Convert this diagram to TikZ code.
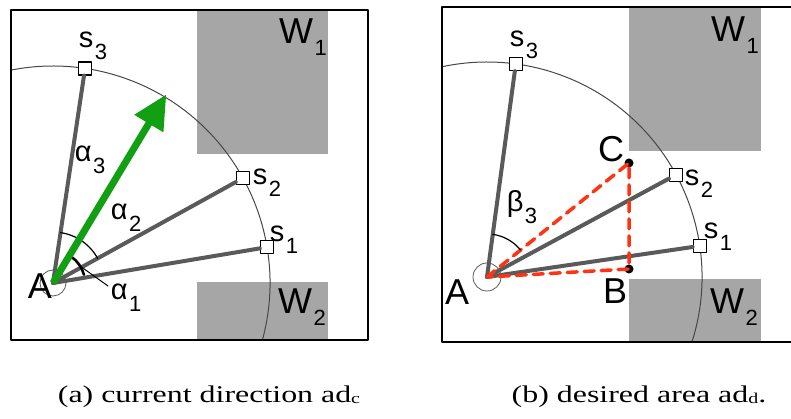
\documentclass[tikz,border=0pt]{standalone}
\usepackage{fontspec}
\setmainfont{Liberation Serif}
\setsansfont{Liberation Sans}
\usetikzlibrary{arrows.meta,positioning}

% label with a lowered index
\newcommand{\lsub}[2]{#1\hspace{1.5pt}\raisebox{-12pt}{\fontsize{22}{22}\selectfont #2}}
% caption text, set wide as in the figure
\newcommand{\capttext}[1]{\scalebox{1.33}[1]{#1}}

\definecolor{wallgray}{RGB}{166,166,166}
\definecolor{raygray}{RGB}{90,90,90}
\definecolor{dirgreen}{RGB}{18,160,18}
\definecolor{areared}{RGB}{255,51,17}

\tikzset{
  wall/.style={fill=wallgray},
  panel/.style={draw=black, line width=1.8pt},
  sweep/.style={draw=raygray!80!black, line width=1pt},
  ray/.style={draw=raygray, line width=4pt},
  sensor/.style={rectangle, draw=black, fill=white, line width=1.4pt, minimum size=13pt, inner sep=0pt},
  robot/.style={draw=raygray, line width=0.8pt},
  ang/.style={draw=black, line width=1.2pt},
  areadash/.style={draw=areared, line width=3.5pt, dash pattern=on 10pt off 7pt},
  cornerdot/.style={circle, fill=black, minimum size=9pt, inner sep=0pt},
  lab/.style={font=\sffamily\fontsize{29}{29}\selectfont, inner sep=0pt},
  big/.style={font=\sffamily\fontsize{36}{36}\selectfont, inner sep=0pt},
  capt/.style={font=\fontsize{24}{24}\selectfont, inner sep=0pt},
}

\begin{document}
\begin{tikzpicture}[x=1pt, y=1pt, line cap=round, line join=round]
  \useasboundingbox (0,0) rectangle (791,419);

  % (a) current direction
  \coordinate (Aa) at (53,136);
  \begin{scope}
    \clip (11,79) rectangle (368,409);
    \fill[wall] (197,265) rectangle (328,409);
    \fill[wall] (197,79) rectangle (328,137);
    \draw[sweep] (Aa) ++(-20:217) arc[start angle=-20, end angle=105, radius=217];
  \end{scope}
  \draw[panel] (11,79) rectangle (368,409);
  \draw[robot] (Aa) circle[radius=13];

  \path (Aa) ++(9.5:217) node[sensor] (sa1) {};
  \path (Aa) ++(28.9:217) node[sensor] (sa2) {};
  \path (Aa) ++(81.5:217) node[sensor] (sa3) {};
  \foreach \i in {1,2,3}
    \draw[ray] (Aa) -- (sa\i);

  % angles
  \draw[ang] (Aa) ++(81.5:51) arc[start angle=81.5, end angle=59, radius=51];
  \draw[ang] (Aa) ++(59:51) arc[start angle=59, end angle=28.9, radius=51];
  \draw[ang, line width=2.6pt] (Aa) ++(55:32) arc[start angle=55, end angle=15, radius=32];
  \coordinate (ka) at (108,133);
  \draw[ang, line width=1pt] (Aa) ++(28:33) -- (ka);

  % direction
  \path (Aa) ++(59:220) coordinate (da);
  \draw[dirgreen, line width=7pt, line cap=butt, -{Triangle[length=34pt, width=32pt]}] (Aa) -- (da);

  \node[big] at (40,133) {A};
  \node[lab] at (93,373) {\lsub{s}{3}};
  \node[lab] at (267,236) {\lsub{s}{2}};
  \node[lab] at (284,179) {\lsub{s}{1}};
  \node[lab] at (90,259) {\lsub{α}{3}};
  \node[lab] at (126,201) {\lsub{α}{2}};
  \node[lab] at (126,121) {\lsub{α}{1}};
  \node[big] at (303,382) {\lsub{W}{1}};
  \node[big] at (302,112) {\lsub{W}{2}};

  % (b) desired area
  \coordinate (Ab) at (487,142);
  \begin{scope}
    \clip (442,77) rectangle (791,412);
    \fill[wall] (629,268) rectangle (761,412);
    \fill[wall] (629,77) rectangle (761,140);
    \draw[sweep] (Ab) ++(-20:215) arc[start angle=-20, end angle=106, radius=215];
  \end{scope}
  \draw[panel] (791,412) -- (442,412) -- (442,77) -- (791,77);
  \draw[robot] (Ab) circle[radius=14];

  \path (Ab) ++(8.3:215) node[sensor] (sb1) {};
  \path (Ab) ++(28.4:215) node[sensor] (sb2) {};
  \path (Ab) ++(82.3:215) node[sensor] (sb3) {};
  \foreach \i in {1,2,3}
    \draw[ray] (Ab) -- (sb\i);

  \node[cornerdot] (C) at (629,256) {};
  \node[cornerdot] (B) at (629,150) {};
  \draw[areadash] (Ab) -- (C.center) -- (B.center) -- cycle;
  \draw[ang] (Ab) ++(82.3:43) arc[start angle=82.3, end angle=38.8, radius=43];

  \node[big] at (457,127) {A};
  \node[big] at (611,270) {C};
  \node[big] at (615,128) {B};
  \node[lab] at (524,374) {\lsub{s}{3}};
  \node[lab] at (699,235) {\lsub{s}{2}};
  \node[lab] at (718,182) {\lsub{s}{1}};
  \node[lab] at (522,212) {\lsub{β}{3}};
  \node[big] at (735,384) {\lsub{W}{1}};
  \node[big] at (734,112) {\lsub{W}{2}};

  % captions
  \node[capt] (capa) at (209,22) {\capttext{(a) current direction ad\raisebox{-1pt}{\fontsize{15}{15}\selectfont c}}};
  \node[capt] (capb) at (639,22) {\capttext{(b) desired area ad\raisebox{-1pt}{\fontsize{15}{15}\selectfont d}.}};
\end{tikzpicture}
\end{document}
